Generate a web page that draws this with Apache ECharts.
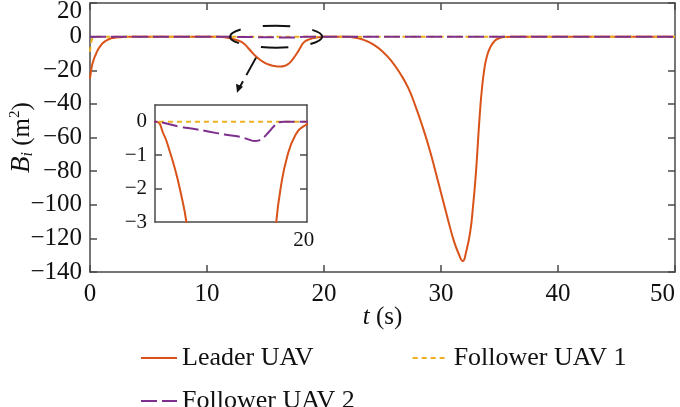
<!DOCTYPE html>
<html>
<head>
<meta charset="utf-8">
<script src="https://cdn.jsdelivr.net/npm/echarts@6/dist/echarts.min.js"></script>
<style>
  html, body { margin: 0; padding: 0; background: #fff; }
  #main { width: 680px; height: 407px; }
</style>
</head>
<body>
<div id="main"></div>
<script>
// leader UAV
var leaderT = [0, 0.1, 0.2, 0.35, 0.5, 0.7, 0.9, 1.1, 1.4, 1.7, 2.0, 2.5, 3.0, 4.0,
    11.0, 11.5, 11.9, 12.2, 12.5, 12.9, 13.2, 13.5, 13.8, 14.1, 14.4, 14.8, 15.2, 15.6, 16.0, 16.3,
    16.6, 16.9, 17.2, 17.5, 17.75, 18.0, 18.15, 18.34, 18.6, 19.0, 19.5, 20.05, 20.6, 21.5,
    22.0, 22.8, 23.5, 24.2, 25.0, 25.8, 26.5, 27.2, 27.8, 28.4, 29.0, 29.5, 30.1, 30.66, 31.1, 31.5,
    31.86, 32.15, 32.5, 32.75, 32.93, 33.07, 33.2, 33.35, 33.5, 33.7, 33.9, 34.2, 34.6, 35.0, 35.5, 36.2, 50];
var leaderB = [-25, -20, -16.5, -13, -10.5, -7.5, -5.5, -3.8, -2.3, -1.3, -0.8, -0.35, -0.15, 0,
    0, -0.35, -0.9, -1.4, -2.0, -3.0, -4.4, -6.6, -9.0, -11.2, -13.0, -15.0, -16.4, -17.3, -17.7, -17.8,
    -17.5, -16.5, -14.6, -11.8, -9.2, -6.3, -4.5, -3.0, -2.0, -1.05, -0.4, -0.12, -0.04, 0,
    -0.1, -0.8, -2.2, -4.6, -8.8, -14.8, -21.8, -30.5, -41, -53, -66.5, -79.5, -95.5, -110.5, -121.5, -129,
    -133.5, -128, -116, -100, -86, -72.5, -58, -43, -31, -19.5, -12.4, -6.5, -2.5, -0.9, -0.2, 0, 0];

// follower UAV 1
var f1T = [0, 0.05, 0.1, 0.2, 0.3, 0.5, 0.8, 50];
var f1B = [-9, -6, -3.5, -1.2, -0.4, -0.1, 0, 0];

// follower UAV 2
var f2T = [0, 11, 11.5, 12.5, 13.4, 14.3, 15.2, 16.15, 16.6, 17.06, 17.3, 17.56, 17.9, 18.17, 18.48, 18.8, 50];
var f2B = [0, 0, -0.03, -0.15, -0.22, -0.3, -0.38, -0.45, -0.52, -0.58, -0.56, -0.48, -0.3, -0.15, -0.02, 0, 0];

var names = ['Leader UAV', 'Follower UAV 1', 'Follower UAV 2'];
var mainTicksX = [0, 10, 20, 30, 40, 50];
var insetTicksY = [0, -1, -2, -3];
var insetTicksX = [20];

function zip(t, v) {
    var out = [];
    for (var i = 0; i < t.length; i++) out.push([t[i], v[i]]);
    return out;
}

var font = 'Liberation Serif';
var axisCol = '#4a4a4a';
var colors = ['#D95319', '#EDB120', '#7E2F8E'];
var styles = [
    { type: 'solid', width: 2 },
    { type: [5, 4], width: 2 },
    { type: [16, 5], width: 2 }
];
var allData = [zip(leaderT, leaderB), zip(f1T, f1B), zip(f2T, f2B)];

function lineAxis() {
    return { show: true, onZero: false, lineStyle: { color: axisCol, width: 1.5 } };
}
function minus(v) {
    return String(v).replace('-', '\u2212');
}

var myChart = echarts.init(document.getElementById('main'), null, { renderer: 'canvas' });

var series = [];
// main plot, then the inset
[0, 1].forEach(function (g) {
    names.forEach(function (n, k) {
        series.push({
            name: n,
            type: 'line',
            xAxisIndex: g * 2,
            yAxisIndex: g * 2,
            data: allData[k],
            symbol: 'none',
            smooth: 0.5,
            clip: true,
            z: 3 + g * 10 + k,
            itemStyle: { color: colors[k] },
            lineStyle: { color: colors[k], width: styles[k].width, type: styles[k].type }
        });
    });
});

var legendText = { fontFamily: font, fontSize: 26, color: '#111' };
var noSymbol = { opacity: 0, borderWidth: 0 };

var option = {
    backgroundColor: '#fff',
    animation: false,
    grid: [
        { left: 90, right: 5, top: 3, bottom: 135, outerBoundsMode: 'none', containLabel: false },
        { left: 155, top: 105, width: 152, height: 117, outerBoundsMode: 'none', containLabel: false,
          show: true, backgroundColor: '#fff', borderWidth: 0, z: 8 }
    ],
    xAxis: [
        {
            type: 'value', gridIndex: 0, position: 'bottom', min: 0, max: 50, interval: 10,
            axisLine: lineAxis(),
            axisTick: { inside: true, length: 7, lineStyle: { color: axisCol, width: 1.5 } },
            axisLabel: { fontFamily: font, fontSize: 25, color: '#111', margin: 10, customValues: mainTicksX, alignMaxLabel: 'right' },
            splitLine: { show: false },
            name: '{i|t} (s)',
            nameLocation: 'middle',
            nameGap: 33,
            nameMoveOverlap: false,
            nameTextStyle: {
                fontFamily: font, fontSize: 25, color: '#111',
                rich: { i: { fontFamily: font, fontSize: 25, fontStyle: 'italic', color: '#111' } }
            }
        },
        {
            type: 'value', gridIndex: 0, position: 'top', min: 0, max: 50, interval: 10,
            axisLine: lineAxis(),
            axisTick: { inside: true, length: 7, lineStyle: { color: axisCol, width: 1.5 } },
            axisLabel: { show: false },
            splitLine: { show: false }
        },
        {
            type: 'value', gridIndex: 1, position: 'bottom', min: 11, max: 20.2,
            axisLine: lineAxis(),
            axisTick: { show: false },
            axisLabel: { fontFamily: font, fontSize: 21, color: '#111', margin: 8, customValues: insetTicksX },
            splitLine: { show: false },
            z: 9
        },
        {
            type: 'value', gridIndex: 1, position: 'top', min: 11, max: 20.2,
            axisLine: lineAxis(),
            axisTick: { show: false },
            axisLabel: { show: false },
            splitLine: { show: false },
            z: 9
        }
    ],
    yAxis: [
        {
            type: 'value', gridIndex: 0, position: 'left', min: -140, max: 20, interval: 20,
            axisLine: lineAxis(),
            axisTick: { inside: true, length: 7, lineStyle: { color: axisCol, width: 1.5 } },
            axisLabel: {
                fontFamily: font, fontSize: 25, lineHeight: 16, color: '#111', margin: 8,
                formatter: minus,
                showMaxLabel: true,
                showMinLabel: true,
                hideOverlap: false,
                verticalAlignMaxLabel: 'top'
            },
            splitLine: { show: false },
            name: '{b|B}{s|i} (m{p|2})',
            nameLocation: 'middle',
            nameGap: 54,
            nameRotate: 90,
            nameMoveOverlap: false,
            nameTextStyle: {
                fontFamily: font, fontSize: 25, color: '#111',
                rich: {
                    b: { fontFamily: font, fontSize: 27, fontStyle: 'italic', color: '#111' },
                    s: { fontFamily: font, fontSize: 16, fontStyle: 'italic', color: '#111', verticalAlign: 'bottom', padding: [12, 0, 0, 0] },
                    p: { fontFamily: font, fontSize: 15, color: '#111', verticalAlign: 'top', padding: [0, 0, 10, 0] }
                }
            }
        },
        {
            type: 'value', gridIndex: 0, position: 'right', min: -140, max: 20, interval: 20,
            axisLine: lineAxis(),
            axisTick: { inside: true, length: 7, lineStyle: { color: axisCol, width: 1.5 } },
            axisLabel: { show: false },
            splitLine: { show: false }
        },
        {
            type: 'value', gridIndex: 1, position: 'left', min: -3, max: 0.5, interval: 1,
            axisLine: lineAxis(),
            axisTick: { inside: true, length: 7, lineStyle: { color: axisCol, width: 1.5 }, customValues: [-2, -1] },
            axisLabel: { fontFamily: font, fontSize: 21, color: '#111', margin: 8, customValues: insetTicksY, formatter: minus },
            splitLine: { show: false },
            z: 9
        },
        {
            type: 'value', gridIndex: 1, position: 'right', min: -3, max: 0.5, interval: 1,
            axisLine: lineAxis(),
            axisTick: { inside: true, length: 7, lineStyle: { color: axisCol, width: 1.5 }, customValues: [-2, -1] },
            axisLabel: { show: false },
            splitLine: { show: false },
            z: 9
        }
    ],
    legend: [
        {
            left: 135, top: 340, itemWidth: 36, itemHeight: 14, itemGap: 98,
            data: [names[0], names[1]],
            itemStyle: noSymbol,
            textStyle: legendText
        },
        {
            left: 135, top: 383, itemWidth: 36, itemHeight: 14,
            data: [names[2]],
            itemStyle: noSymbol,
            textStyle: legendText
        }
    ],
    series: series
};

myChart.setOption(option);

// dashed ellipse round the first dip + arrow down to the inset
var c = myChart.convertToPixel({ gridIndex: 0 }, [15.9, 0]);
var rx = 46, ry = 11;
var a0 = [c[0] - 20, c[1] + 21];
var a1 = [c[0] - 36, c[1] + 50];
var tip = [c[0] - 39, c[1] + 56];
myChart.setOption({
    graphic: [
        {
            type: 'ellipse', z: 20,
            shape: { cx: c[0], cy: c[1], rx: rx, ry: ry },
            style: { fill: null, stroke: '#111', lineWidth: 2, lineDash: [27, 22.5], lineDashOffset: 13.5 }
        },
        {
            type: 'line', z: 20,
            shape: { x1: a0[0], y1: a0[1], x2: a1[0], y2: a1[1] },
            style: { stroke: '#111', lineWidth: 2, lineDash: [20, 7] }
        },
        {
            type: 'polygon', z: 20,
            shape: { points: [[tip[0], tip[1]], [tip[0] - 1, tip[1] - 9], [tip[0] + 6, tip[1] - 6]] },
            style: { fill: '#111' }
        }
    ]
});
</script>
</body>
</html>
